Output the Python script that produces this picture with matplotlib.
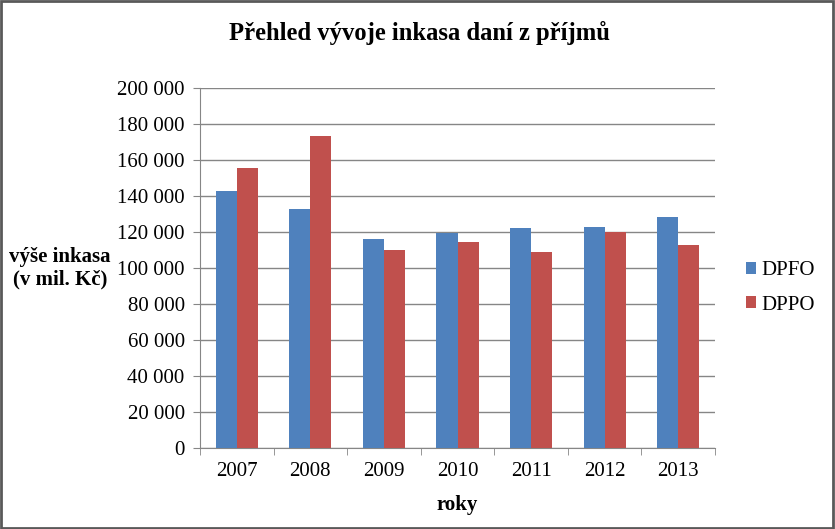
import numpy as np
import matplotlib
matplotlib.use("Agg")
import matplotlib.pyplot as plt
from matplotlib.ticker import FuncFormatter

# data (mil. Kč)
years = ["2007", "2008", "2009", "2010", "2011", "2012", "2013"]
dpfo = [142900, 132900, 116300, 119600, 122400, 122900, 128500]
dppo = [155700, 173500, 110200, 114600, 109100, 120000, 112900]

plt.rcParams['font.family'] = ['Liberation Serif', 'DejaVu Serif']

fig = plt.figure(figsize=(8.35, 5.29), dpi=100)
ax = fig.add_axes([200/835, 1-448/529, 515/835, 360/529])

x = np.arange(len(years))
w = 0.286
ax.bar(x - w/2, dpfo, w, color='#4F81BD', label='DPFO', zorder=3)
ax.bar(x + w/2, dppo, w, color='#C0504D', label='DPPO', zorder=3)

ax.set_xlim(-0.5, len(years) - 0.5)
ax.set_ylim(0, 200000)
ax.set_yticks(np.arange(0, 200001, 20000))
ax.yaxis.set_major_formatter(FuncFormatter(lambda v, p: f"{int(v):,}".replace(",", " ")))
ax.set_xticks(x)
ax.set_xticklabels(years)
ax.set_xticks(np.arange(-0.5, len(years)), minor=True)
ax.tick_params(axis='x', which='major', length=0, labelsize=15, pad=10)
ax.tick_params(axis='x', which='minor', length=5, color='#868686')
ax.tick_params(axis='y', length=5, color='#868686', labelsize=15, pad=6)

ax.grid(axis='y', color='#868686', linewidth=1, zorder=0)
for s in ['top', 'right']:
    ax.spines[s].set_visible(False)
for s in ['left', 'bottom']:
    ax.spines[s].set_color('#868686')

ax.set_xlabel('roky', fontsize=15, fontweight='bold', labelpad=10)
fig.text(60/835, 1-268/529, 'výše inkasa\n(v mil. Kč)', fontsize=15, fontweight='bold',
         ha='center', va='center', linespacing=1.15)
fig.text(419/835, 1-33/529, 'Přehled vývoje inkasa daní z příjmů', fontsize=17.7,
         fontweight='bold', ha='center', va='center')

ax.legend(loc='center left', bbox_to_anchor=(727/835, 1-288/529), bbox_transform=fig.transFigure,
          frameon=False, fontsize=15, handlelength=0.5, handleheight=0.5, handletextpad=0.25,
          labelspacing=0.75)

border = plt.Rectangle((0.001, 0.002), 0.997, 0.996, transform=fig.transFigure, fill=False,
                       edgecolor='#595959', linewidth=2)
fig.patches.append(border)

fig.savefig('out.png', dpi=100)
